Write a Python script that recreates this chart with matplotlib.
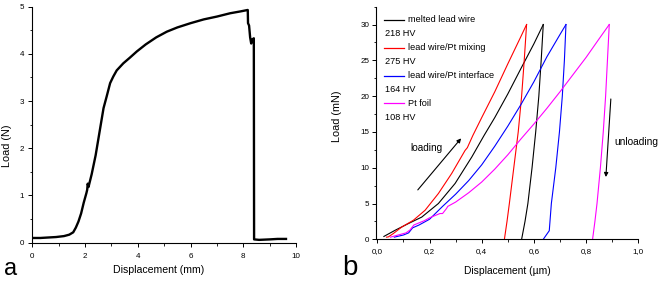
import numpy as np
import matplotlib
matplotlib.use('Agg')
import matplotlib.pyplot as plt
from matplotlib.ticker import MultipleLocator, FuncFormatter

plt.rcParams['font.family'] = ['Liberation Sans', 'DejaVu Sans']

# ---- panel a : tensile test of the lead wire ----
disp_a = [0.0, 0.3, 0.6, 0.9, 1.2, 1.4, 1.55, 1.65, 1.75, 1.85, 1.95, 2.05, 2.08, 2.1, 2.13,
          2.25, 2.4, 2.55, 2.7, 2.82, 2.95, 3.07, 3.2, 3.45, 3.7, 3.96, 4.3, 4.7, 5.1, 5.5,
          6.0, 6.5, 7.0, 7.5, 7.9, 8.17, 8.18, 8.22, 8.26, 8.3, 8.33, 8.4, 8.41, 8.6, 9.0,
          9.3, 9.62]
load_a = [0.10, 0.10, 0.11, 0.12, 0.14, 0.17, 0.22, 0.32, 0.45, 0.62, 0.85, 1.05, 1.12, 1.25,
          1.18, 1.45, 1.85, 2.35, 2.85, 3.1, 3.38, 3.52, 3.65, 3.8, 3.92, 4.05, 4.2, 4.35,
          4.47, 4.56, 4.65, 4.73, 4.79, 4.86, 4.9, 4.93, 4.65, 4.6, 4.35, 4.22, 4.3, 4.33,
          0.07, 0.06, 0.07, 0.08, 0.08]

# ---- panel b : nanoindentation load-displacement curves ----
labels_b = ['melted lead wire', 'lead wire/Pt mixing', 'lead wire/Pt interface', 'Pt foil']
hardness_b = ['218 HV', '275 HV', '164 HV', '108 HV']
colors_b = ['black', 'red', 'blue', 'magenta']

# loading branches
h_black = [0.025, 0.068, 0.119, 0.17, 0.234, 0.298, 0.362, 0.409, 0.45, 0.5, 0.551, 0.6, 0.636]
p_black = [0.4, 1.26, 2.2, 3.1, 5.0, 7.8, 11.5, 14.5, 17.0, 20.3, 23.9, 27.3, 30.0]
h_red = [0.035, 0.042, 0.061, 0.093, 0.138, 0.183, 0.234, 0.285, 0.336, 0.345, 0.366, 0.4,
         0.45, 0.5, 0.55, 0.572]
p_red = [0.3, 0.33, 0.8, 1.7, 2.66, 4.06, 6.4, 9.2, 12.4, 12.8, 14.5, 17.0, 20.6, 24.5, 28.3, 30.0]
h_blue = [0.065, 0.1, 0.12, 0.135, 0.16, 0.2, 0.25, 0.3, 0.35, 0.4, 0.45, 0.5, 0.55, 0.6,
          0.65, 0.7, 0.723]
p_blue = [0.3, 0.6, 0.9, 1.6, 2.0, 2.8, 4.6, 6.3, 8.2, 10.4, 13.0, 15.8, 18.8, 22.0, 25.5,
          28.6, 30.0]
h_mag = [0.05, 0.08, 0.11, 0.125, 0.14, 0.18, 0.2, 0.22, 0.24, 0.25, 0.265, 0.27, 0.3, 0.35,
         0.4, 0.45, 0.5, 0.55, 0.6, 0.65, 0.7, 0.75, 0.8, 0.85, 0.889]
p_mag = [0.3, 0.6, 0.9, 1.3, 2.0, 2.6, 3.0, 3.3, 3.6, 3.6, 4.3, 4.6, 5.2, 6.5, 8.0, 9.8,
         11.8, 14.0, 16.1, 18.3, 20.6, 23.0, 25.4, 28.0, 30.0]

# unloading branches (top to bottom)
p_unl = [30, 25, 20, 15, 10, 5, 2.5, 0]
hu_black = [0.636, 0.628, 0.619, 0.607, 0.593, 0.577, 0.566, 0.553]
hu_red = [0.572, 0.563, 0.553, 0.540, 0.523, 0.506, 0.497, 0.487]
hu_mag = [0.889, 0.882, 0.875, 0.866, 0.855, 0.842, 0.834, 0.825]
p_unl_blue = [30, 25, 20, 15, 10, 5, 1.2, 0]
hu_blue = [0.723, 0.717, 0.709, 0.698, 0.684, 0.667, 0.659, 0.636]

loading = [(h_black, p_black), (h_red, p_red), (h_blue, p_blue), (h_mag, p_mag)]
unloading = [(hu_black, p_unl), (hu_red, p_unl), (hu_blue, p_unl_blue), (hu_mag, p_unl)]

fig = plt.figure(figsize=(6.6, 2.81), dpi=100)
ax1 = fig.add_axes([0.049, 0.1363, 0.3995, 0.84])
ax2 = fig.add_axes([0.569, 0.1484, 0.398, 0.828])


def style(ax):
    for s in ['top', 'right']:
        ax.spines[s].set_visible(False)
    for s in ['left', 'bottom']:
        ax.spines[s].set_linewidth(0.8)
    ax.tick_params(which='major', direction='out', length=3, width=0.7, labelsize=5.8)
    ax.tick_params(which='minor', direction='out', length=1.8, width=0.6)


# panel a
ax1.plot(disp_a, load_a, color='black', lw=1.7)
ax1.set_xlim(0, 10)
ax1.set_ylim(0, 5)
ax1.xaxis.set_major_locator(MultipleLocator(2))
ax1.xaxis.set_minor_locator(MultipleLocator(1))
ax1.yaxis.set_major_locator(MultipleLocator(1))
ax1.yaxis.set_minor_locator(MultipleLocator(0.5))
style(ax1)
ax1.tick_params(axis='x', which='major', pad=4.5)
ax1.tick_params(axis='y', which='major', pad=3)
ax1.set_xlabel('Displacement (mm)', fontsize=7.6)
ax1.set_ylabel('Load (N)', fontsize=7.8)
ax1.xaxis.set_label_coords(0.479, -0.095)
ax1.yaxis.set_label_coords(-0.078, 0.41)

# panel b
for (h, p), (hu, pu), c in zip(loading, unloading, colors_b):
    ax2.plot(h, p, color=c, lw=0.8)
    ax2.plot(hu, pu, color=c, lw=0.8)
ax2.set_xlim(-0.007, 1.0)
ax2.set_ylim(0, 32.5)
ax2.xaxis.set_major_locator(MultipleLocator(0.2))
ax2.xaxis.set_minor_locator(MultipleLocator(0.1))
ax2.yaxis.set_major_locator(MultipleLocator(5))
ax2.yaxis.set_minor_locator(MultipleLocator(2.5))
ax2.xaxis.set_major_formatter(FuncFormatter(lambda v, p: f'{v:.1f}'.replace('.', ',')))
style(ax2)
ax2.tick_params(axis='x', which='major', pad=3)
ax2.tick_params(axis='y', which='major', pad=1.5)
ax2.set_xlabel('Displacement (\u00b5m)', fontsize=7.4)
ax2.set_ylabel('Load (mN)', fontsize=7.8)
ax2.xaxis.set_label_coords(0.503, -0.115)
ax2.yaxis.set_label_coords(-0.129, 0.53)

# legend drawn by hand: coloured line + name, then hardness line without handle
y0, dy = 0.943, 0.0598
for i, (lab, hv, c) in enumerate(zip(labels_b, hardness_b, colors_b)):
    yl = y0 - 2 * i * dy
    ax2.plot([0.032, 0.108], [yl, yl], color=c, lw=0.9, transform=ax2.transAxes)
    ax2.text(0.124, yl, lab, transform=ax2.transAxes, fontsize=6.6, va='center')
    ax2.text(0.036, yl - dy, hv, transform=ax2.transAxes, fontsize=6.6, va='center')

# arrows and annotations
ax2.annotate('', xy=(0.321, 14.1), xytext=(0.155, 6.9),
             arrowprops=dict(arrowstyle='-|>', color='black', lw=0.8,
                             mutation_scale=6, shrinkA=0, shrinkB=0))
ax2.text(0.189, 12.7, 'loading', fontsize=7.2, ha='center', va='center')
ax2.annotate('', xy=(0.876, 8.7), xytext=(0.895, 19.6),
             arrowprops=dict(arrowstyle='-|>', color='black', lw=0.8,
                             mutation_scale=6, shrinkA=0, shrinkB=0))
ax2.text(0.907, 13.6, 'unloading', fontsize=7.3, ha='left', va='center')

# panel letters
fig.text(0.006, 0.022, 'a', fontsize=17, va='baseline')
fig.text(0.518, 0.022, 'b', fontsize=20, va='baseline')

fig.savefig('out.png', dpi=100)
